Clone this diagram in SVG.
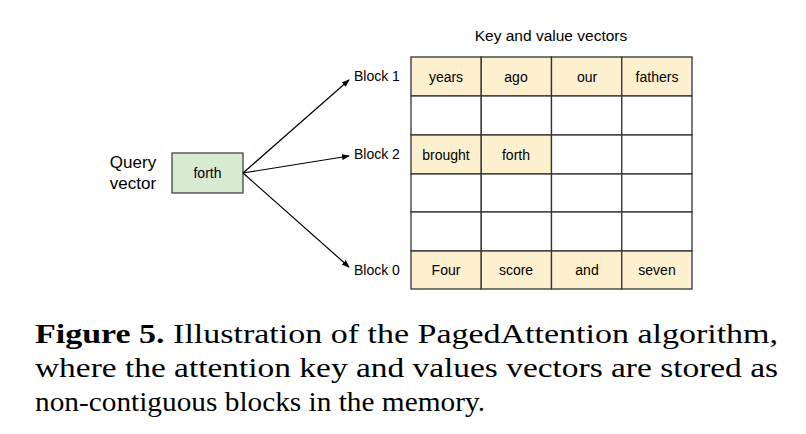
<svg xmlns="http://www.w3.org/2000/svg" width="806" height="434" viewBox="0 0 806 434">
<style>
.s{font-family:"Liberation Sans",Arial,sans-serif;font-size:14px;fill:#000}
.c{stroke:#333;stroke-width:1.3}
.y{fill:#fdf0cf}
.w{fill:#fff}
.cap{font-family:"Liberation Serif","Times New Roman",serif;font-size:28px;fill:#000}
</style>
<defs><marker id="a" markerWidth="8" markerHeight="6" refX="7" refY="3" orient="auto" markerUnits="userSpaceOnUse"><path d="M0,0L8,3L0,6z" fill="#000"/></marker></defs>
<rect width="806" height="434" fill="#fff"/>
<text class="s" x="551" y="41" text-anchor="middle" style="font-size:15.5px">Key and value vectors</text>
<g id="query">
<text class="s" x="133" y="168" text-anchor="middle" style="font-size:17px">Query</text>
<text class="s" x="133" y="189" text-anchor="middle" style="font-size:17px">vector</text>
<rect x="172" y="153" width="71" height="40" fill="#d9ead3" stroke="#444" stroke-width="1.3"/>
<text class="s" x="207.5" y="178" text-anchor="middle">forth</text>
</g>
<g id="connectors" stroke="#000" stroke-width="1.2" marker-end="url(#a)">
<line x1="243" y1="173" x2="349" y2="80"/>
<line x1="243" y1="173" x2="349" y2="156"/>
<line x1="243" y1="173" x2="349" y2="267"/>
</g>
<g id="labels">
<text class="s" x="354" y="81">Block 1</text>
<text class="s" x="354" y="159">Block 2</text>
<text class="s" x="354" y="275">Block 0</text>
</g>
<g id="grid">
<g class="c">
<rect class="y" x="411" y="57" width="70.25" height="39"/><rect class="y" x="481.25" y="57" width="70.25" height="39"/><rect class="y" x="551.5" y="57" width="70.25" height="39"/><rect class="y" x="621.75" y="57" width="70.25" height="39"/>
<rect class="w" x="411" y="96" width="70.25" height="39"/><rect class="w" x="481.25" y="96" width="70.25" height="39"/><rect class="w" x="551.5" y="96" width="70.25" height="39"/><rect class="w" x="621.75" y="96" width="70.25" height="39"/>
<rect class="y" x="411" y="135" width="70.25" height="39"/><rect class="y" x="481.25" y="135" width="70.25" height="39"/><rect class="w" x="551.5" y="135" width="70.25" height="39"/><rect class="w" x="621.75" y="135" width="70.25" height="39"/>
<rect class="w" x="411" y="174" width="70.25" height="38"/><rect class="w" x="481.25" y="174" width="70.25" height="38"/><rect class="w" x="551.5" y="174" width="70.25" height="38"/><rect class="w" x="621.75" y="174" width="70.25" height="38"/>
<rect class="w" x="411" y="212" width="70.25" height="39"/><rect class="w" x="481.25" y="212" width="70.25" height="39"/><rect class="w" x="551.5" y="212" width="70.25" height="39"/><rect class="w" x="621.75" y="212" width="70.25" height="39"/>
<rect class="y" x="411" y="251" width="70.25" height="38"/><rect class="y" x="481.25" y="251" width="70.25" height="38"/><rect class="y" x="551.5" y="251" width="70.25" height="38"/><rect class="y" x="621.75" y="251" width="70.25" height="38"/>
</g>
<g class="s" text-anchor="middle">
<text x="446" y="82">years</text><text x="516" y="82">ago</text><text x="587" y="82">our</text><text x="657" y="82">fathers</text>
<text x="446" y="160">brought</text><text x="516" y="160">forth</text>
<text x="446" y="275">Four</text><text x="516" y="275">score</text><text x="587" y="275">and</text><text x="657" y="275">seven</text>
</g>
</g>
<g id="caption" class="cap">
<text x="35" y="343" textLength="743" lengthAdjust="spacingAndGlyphs"><tspan font-weight="bold">Figure 5.</tspan> Illustration of the PagedAttention algorithm,</text>
<text x="35" y="377" textLength="743" lengthAdjust="spacingAndGlyphs">where the attention key and values vectors are stored as</text>
<text x="35" y="411" textLength="450" lengthAdjust="spacingAndGlyphs">non-contiguous blocks in the memory.</text>
</g>
</svg>
